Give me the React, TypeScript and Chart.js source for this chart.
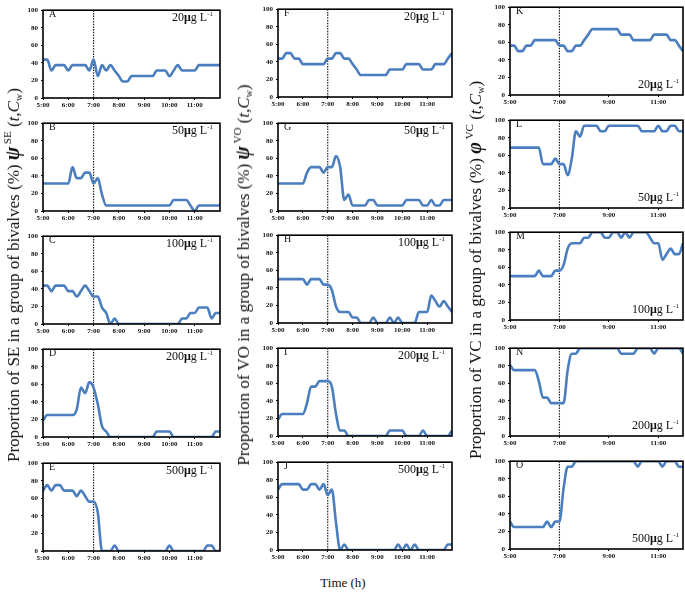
import React, { useEffect, useRef } from "react";
import { Chart, registerables } from "chart.js";
Chart.register(...registerables);

// ---------- data ----------
const timeLabels = [
  "5:00", "5:10", "5:20", "5:30", "5:40", "5:50",
  "6:00", "6:10", "6:20", "6:30", "6:40", "6:50",
  "7:00", "7:10", "7:20", "7:30", "7:40", "7:50",
  "8:00", "8:10", "8:20", "8:30", "8:40", "8:50",
  "9:00", "9:10", "9:20", "9:30", "9:40", "9:50",
  "10:00", "10:10", "10:20", "10:30", "10:40", "10:50",
  "11:00", "11:10", "11:20", "11:30", "11:40", "11:50",
  "12:00",
];
const hourTicksEvery1 = [5, 6, 7, 8, 9, 10, 11];
const hourTicksEvery2 = [5, 7, 9, 11];
const percentTicks = [0, 20, 40, 60, 80, 100];
const exposureHour = 7;

// SE (column 1)
const seA = [43.75, 43.75, 31.25, 37.5, 37.5, 37.5, 31.25, 37.5, 37.5, 37.5, 37.5, 31.25, 43.75, 25, 37.5, 31.25, 37.5, 31.25, 25, 18.75, 18.75, 25, 25, 25, 25, 25, 25, 31.25, 31.25, 31.25, 25, 31.25, 37.5, 31.25, 31.25, 31.25, 31.25, 37.5, 37.5, 37.5, 37.5, 37.5, 37.5];
const seB = [31.25, 31.25, 31.25, 31.25, 31.25, 31.25, 31.25, 50, 37.5, 37.5, 43.75, 43.75, 31.25, 37.5, 18.75, 6.25, 6.25, 6.25, 6.25, 6.25, 6.25, 6.25, 6.25, 6.25, 6.25, 6.25, 6.25, 6.25, 6.25, 6.25, 6.25, 12.5, 12.5, 12.5, 12.5, 6.25, 0, 6.25, 6.25, 6.25, 6.25, 6.25, 6.25];
const seC = [43.75, 43.75, 37.5, 43.75, 43.75, 43.75, 37.5, 37.5, 31.25, 37.5, 43.75, 37.5, 31.25, 31.25, 18.75, 12.5, 0, 6.25, 0, 0, 0, 0, 0, 0, 0, 0, 0, 0, 0, 0, 0, 0, 0, 6.25, 6.25, 12.5, 12.5, 18.75, 18.75, 18.75, 6.25, 12.5, 12.5];
const seD = [18.75, 25, 25, 25, 25, 25, 25, 25, 31.25, 56.25, 50, 62.5, 56.25, 37.5, 12.5, 6.25, 0, 0, 0, 0, 0, 0, 0, 0, 0, 0, 0, 6.25, 6.25, 6.25, 6.25, 0, 0, 0, 0, 0, 0, 0, 0, 0, 0, 6.25, 6.25];
const seE = [68.75, 75, 68.75, 75, 75, 68.75, 68.75, 68.75, 62.5, 68.75, 62.5, 56.25, 56.25, 43.75, 0, 0, 0, 6.25, 0, 0, 0, 0, 0, 0, 0, 0, 0, 0, 0, 0, 6.25, 0, 0, 0, 0, 0, 0, 0, 0, 6.25, 6.25, 0, 0];

// VO (column 2)
const voF = [43.75, 43.75, 50, 50, 43.75, 43.75, 37.5, 37.5, 37.5, 37.5, 37.5, 37.5, 43.75, 43.75, 50, 50, 43.75, 43.75, 37.5, 31.25, 25, 25, 25, 25, 25, 25, 25, 31.25, 31.25, 31.25, 31.25, 37.5, 37.5, 37.5, 37.5, 31.25, 31.25, 31.25, 37.5, 37.5, 37.5, 43.75, 50];
const voG = [31.25, 31.25, 31.25, 31.25, 31.25, 31.25, 31.25, 43.75, 50, 50, 50, 43.75, 50, 50, 62.5, 50, 12.5, 18.75, 6.25, 6.25, 6.25, 6.25, 12.5, 12.5, 6.25, 6.25, 6.25, 6.25, 6.25, 6.25, 6.25, 12.5, 12.5, 12.5, 12.5, 6.25, 6.25, 12.5, 6.25, 6.25, 12.5, 12.5, 12.5];
const voH = [50, 50, 50, 50, 50, 50, 50, 43.75, 50, 50, 50, 43.75, 43.75, 37.5, 18.75, 12.5, 12.5, 12.5, 6.25, 6.25, 0, 0, 0, 6.25, 0, 0, 0, 6.25, 0, 6.25, 0, 0, 0, 0, 12.5, 12.5, 12.5, 31.25, 25, 18.75, 25, 18.75, 12.5];
const voI = [18.75, 25, 25, 25, 25, 25, 25, 37.5, 56.25, 56.25, 62.5, 62.5, 62.5, 56.25, 25, 6.25, 6.25, 0, 0, 0, 0, 0, 0, 0, 0, 0, 0, 6.25, 6.25, 6.25, 6.25, 0, 0, 0, 0, 6.25, 0, 0, 0, 0, 0, 0, 6.25];
const voJ = [68.75, 75, 75, 75, 75, 75, 68.75, 68.75, 75, 75, 68.75, 75, 62.5, 68.75, 31.25, 0, 6.25, 0, 0, 0, 0, 0, 0, 0, 0, 0, 0, 0, 0, 6.25, 0, 6.25, 0, 6.25, 0, 0, 0, 0, 0, 0, 0, 6.25, 6.25];

// VC (column 3)
const vcK = [56.25, 56.25, 50, 50, 56.25, 56.25, 62.5, 62.5, 62.5, 62.5, 62.5, 62.5, 56.25, 56.25, 50, 50, 56.25, 56.25, 62.5, 68.75, 75, 75, 75, 75, 75, 75, 75, 68.75, 68.75, 68.75, 62.5, 62.5, 62.5, 62.5, 62.5, 68.75, 68.75, 68.75, 68.75, 62.5, 62.5, 56.25, 50];
const vcL = [68.75, 68.75, 68.75, 68.75, 68.75, 68.75, 68.75, 68.75, 50, 50, 50, 56.25, 50, 50, 37.5, 56.25, 87.5, 81.25, 93.75, 93.75, 93.75, 93.75, 87.5, 87.5, 93.75, 93.75, 93.75, 93.75, 93.75, 93.75, 93.75, 93.75, 87.5, 87.5, 87.5, 87.5, 93.75, 87.5, 87.5, 93.75, 93.75, 87.5, 87.5];
const vcM = [50, 50, 50, 50, 50, 50, 50, 56.25, 50, 50, 50, 56.25, 56.25, 62.5, 81.25, 87.5, 87.5, 87.5, 93.75, 93.75, 100, 100, 100, 93.75, 93.75, 100, 100, 93.75, 100, 93.75, 100, 100, 100, 100, 93.75, 87.5, 87.5, 68.75, 75, 81.25, 75, 75, 87.5];
const vcN = [81.25, 75, 75, 75, 75, 75, 75, 62.5, 43.75, 43.75, 37.5, 37.5, 37.5, 37.5, 75, 93.75, 93.75, 100, 100, 100, 100, 100, 100, 100, 100, 100, 100, 93.75, 93.75, 93.75, 93.75, 100, 100, 100, 100, 93.75, 100, 100, 100, 100, 100, 100, 93.75];
const vcO = [31.25, 25, 25, 25, 25, 25, 25, 25, 25, 31.25, 25, 31.25, 31.25, 68.75, 93.75, 93.75, 100, 100, 100, 100, 100, 100, 100, 100, 100, 100, 100, 100, 100, 100, 100, 93.75, 100, 100, 100, 100, 100, 93.75, 100, 100, 100, 93.75, 93.75];

const concSE = ["20", "50", "100", "200", "500"];

// ---------- layout ----------
const FONT = "'Liberation Serif', 'Times New Roman', serif";
const Y_AXIS_W = 26;
const X_AXIS_H = 16;
const PAD_T = 3;
const PAD_R = 2;
const PLOT_H = 92;

const columns = [
  { left: 43, width: 177, ticks: hourTicksEvery1, concAt: "top", tops: [6, 119, 232, 345, 459] },
  { left: 278, width: 174, ticks: hourTicksEvery1, concAt: "top", tops: [5, 119, 231, 344, 458] },
  { left: 510, width: 173, ticks: hourTicksEvery2, concAt: "bottom", tops: [3, 116, 228, 344, 457] },
];

const series = [
  [seA, seB, seC, seD, seE],
  [voF, voG, voH, voI, voJ],
  [vcK, vcL, vcM, vcN, vcO],
];
const letters = [
  ["A", "B", "C", "D", "E"],
  ["F", "G", "H", "I", "J"],
  ["K", "L", "M", "N", "O"],
];

function toHours(label: string): number {
  const [h, m] = label.split(":").map(Number);
  return h + m / 60;
}

const framePlugin = {
  id: "frame",
  beforeDatasetsDraw(chart: any) {
    const { ctx, chartArea: a, scales } = chart;
    const x = scales.x.getPixelForValue(exposureHour);
    ctx.save();
    ctx.strokeStyle = "#222";
    ctx.lineWidth = 1.2;
    ctx.setLineDash([1.5, 1.2]);
    ctx.beginPath();
    ctx.moveTo(x, a.top);
    ctx.lineTo(x, a.bottom);
    ctx.stroke();
    ctx.restore();
  },
  afterDraw(chart: any) {
    const { ctx, chartArea: a } = chart;
    ctx.save();
    ctx.strokeStyle = "#000";
    ctx.lineWidth = 1.6;
    ctx.strokeRect(a.left, a.top, a.right - a.left, a.bottom - a.top);
    ctx.restore();
  },
};

function Panel({ values, left, top, width, ticks }: any) {
  const ref = useRef<HTMLCanvasElement>(null);
  useEffect(() => {
    const canvas = ref.current!;
    const chart = new Chart(canvas, {
      type: "line",
      data: {
        datasets: [
          {
            data: timeLabels.map((t, i) => ({ x: toHours(t), y: values[i] })),
            borderColor: "#4a7ebf",
            borderWidth: 2.6,
            pointRadius: 0,
            cubicInterpolationMode: "monotone",
            fill: false,
          },
        ],
      },
      options: {
        animation: false,
        responsive: false,
        devicePixelRatio: 1,
        layout: { padding: { top: PAD_T, right: PAD_R, left: 0, bottom: 0 } },
        plugins: { legend: { display: false }, tooltip: { enabled: false } },
        scales: {
          x: {
            type: "linear",
            min: 5,
            max: 12,
            afterBuildTicks: (s: any) => {
              s.ticks = ticks.map((v: number) => ({ value: v }));
            },
            afterFit: (s: any) => {
              s.height = X_AXIS_H;
            },
            ticks: {
              autoSkip: false,
              maxRotation: 0,
              padding: 1,
              color: "#111",
              font: { family: FONT, size: 7, weight: "bold" },
              callback: (v: any) => `${v}:00`,
            },
            grid: { drawOnChartArea: false, drawTicks: true, tickLength: 2, color: "#000" },
            border: { display: false },
          },
          y: {
            min: 0,
            max: 100,
            afterBuildTicks: (s: any) => {
              s.ticks = percentTicks.map((v) => ({ value: v }));
            },
            afterFit: (s: any) => {
              s.width = Y_AXIS_W;
            },
            ticks: {
              padding: 3,
              color: "#111",
              font: { family: FONT, size: 7, weight: "bold" },
            },
            grid: { drawOnChartArea: false, drawTicks: true, tickLength: 2, color: "#000" },
            border: { display: false },
          },
        },
      },
      plugins: [framePlugin],
    } as any);
    return () => chart.destroy();
  }, []);
  const cw = width + Y_AXIS_W + PAD_R;
  const ch = PLOT_H + PAD_T + X_AXIS_H;
  return (
    <canvas
      ref={ref}
      width={cw}
      height={ch}
      style={{ position: "absolute", left: left - Y_AXIS_W, top: top - PAD_T, width: cw, height: ch }}
    />
  );
}

function Conc({ value }: { value: string }) {
  return (
    <span>
      {value}
      <b>μ</b>g L
      <span style={{ fontSize: 7, position: "relative", top: -5 }}>-1</span>
    </span>
  );
}

function YTitle({ x, y, label, sym, sup }: any) {
  return (
    <div
      style={{
        position: "absolute",
        left: x,
        top: y,
        transform: "translate(-50%, -50%) rotate(-90deg)",
        whiteSpace: "nowrap",
        fontFamily: FONT,
        fontSize: 17,
        color: "#111",
        lineHeight: 1,
      }}
    >
      {label}{" "}
      <span style={{ fontWeight: "bold", fontStyle: "italic", fontSize: 20 }}>{sym}</span>
      <span style={{ fontSize: 11, position: "relative", top: -8 }}> {sup}</span>
      {" "}(<i>t</i>,<i>C</i>
      <span style={{ fontSize: 10, position: "relative", top: 3 }}>w</span>)
    </div>
  );
}

export default function App() {
  return (
    <div
      style={{
        position: "fixed",
        left: 0,
        top: 0,
        width: 685,
        height: 594,
        overflow: "hidden",
        background: "#fff",
        fontFamily: FONT,
      }}
    >
      {columns.map((col, ci) =>
        col.tops.map((top, ri) => (
          <React.Fragment key={`${ci}-${ri}`}>
            <Panel values={series[ci][ri]} left={col.left} top={top} width={col.width} ticks={col.ticks} />
            <div
              style={{ position: "absolute", left: col.left + 6, top: top + 3, fontSize: 10, lineHeight: 1, color: "#111" }}
            >
              {letters[ci][ri]}
            </div>
            <div
              style={
                col.concAt === "top"
                  ? { position: "absolute", right: 685 - (col.left + col.width - 7), top: top + 5, fontSize: 12, lineHeight: 1, color: "#111", whiteSpace: "nowrap" }
                  : { position: "absolute", right: 685 - (col.left + col.width - 4), top: top + PLOT_H - 17, fontSize: 12, lineHeight: 1, color: "#111", whiteSpace: "nowrap" }
              }
            >
              <Conc value={concSE[ri]} />
            </div>
          </React.Fragment>
        ))
      )}
      <YTitle x={12} y={275} label="Proportion of SE in a group of bivalves (%)" sym="ψ" sup="SE" />
      <YTitle x={242} y={275} label="Proportion of VO in a group of bivalves (%)" sym="ψ" sup="VO" />
      <YTitle x={474} y={270} label="Proportion of VC in a group of bivalves (%)" sym="φ" sup="VC" />
      <div style={{ position: "absolute", left: 343, top: 583, transform: "translate(-50%, -50%)", fontSize: 13, whiteSpace: "nowrap", color: "#111" }}>
        Time (h)
      </div>
    </div>
  );
}
